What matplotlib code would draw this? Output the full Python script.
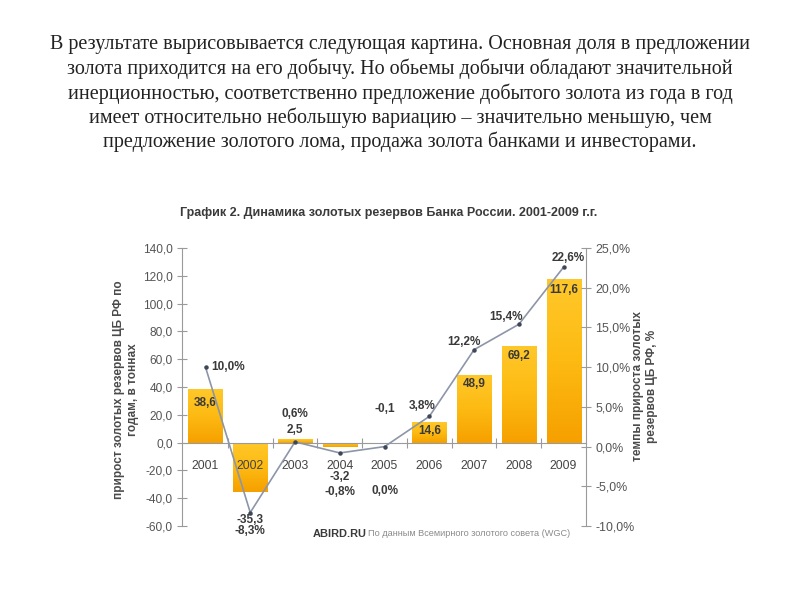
import matplotlib.pyplot as plt
import numpy as np
from matplotlib.colors import LinearSegmentedColormap

# Data
years = ["2001", "2002", "2003", "2004", "2005", "2006", "2007", "2008", "2009"]
tonnes = [38.6, -35.3, 2.5, -3.2, -0.1, 14.6, 48.9, 69.2, 117.6]   # left axis, bars
growth = [10.0, -8.3, 0.6, -0.8, 0.0, 3.8, 12.2, 15.4, 22.6]        # right axis, line
left_ticks = [-60, -40, -20, 0, 20, 40, 60, 80, 100, 120, 140]
right_ticks = [-10, -5, 0, 5, 10, 15, 20, 25]

intro_lines = [
    "В результате вырисовывается следующая картина. Основная доля в предложении",
    "золота приходится на его добычу. Но обьемы добычи обладают значительной",
    "инерционностью, соответственно предложение добытого золота из года в год",
    "имеет относительно небольшую вариацию \u2013 значительно меньшую, чем",
    "предложение золотого лома, продажа золота банками и инвесторами.",
]
title = "График 2. Динамика золотых резервов Банка России. 2001-2009 г.г."
left_label = "прирост золотых резервов ЦБ РФ по\nгодам, в тоннах"
right_label = "темпы прироста золотых\nрезервов ЦБ РФ, %"

# label offsets in pixels (dx, dy) and alignment
val_off = [(0, -14), (0, -28), (0, 9), (0, -30), (0, 34), (0, -9), (0, -9), (0, -10), (0, -11)]
pct_off = [(6, 0), (0, -18), (0, 28), (0, -39), (0, -44), (-7, 10), (-10, 8), (-13, 7), (5, 9)]
pct_ha = ["left"] + ["center"] * 8


def ru(v):
    return f"{v:.1f}".replace(".", ",")


plt.rcParams["font.family"] = ["Liberation Sans", "DejaVu Sans"]
fig = plt.figure(figsize=(8, 6), dpi=100)
fig.patch.set_facecolor("white")

# paragraph on top
for i, line in enumerate(intro_lines):
    fig.text(0.5, 1 - (45 + 24.2 * i) / 600, line, ha="center", va="center",
             fontsize=14.5, family="Liberation Serif", color="#222222")

fig.text(180 / 800, 1 - 213 / 600, title, ha="left", va="center",
         fontsize=9, fontweight="bold", color="#3a3a3a")

ax = fig.add_axes([0.2275, 0.1233, 0.505, 0.4633])
x = np.arange(len(years))
bars = ax.bar(x, tonnes, width=0.76, color="none", edgecolor="none", zorder=2)

cmap = LinearSegmentedColormap.from_list("gold", ["#F6A000", "#FDBA12", "#FFC82A"])
grad = np.linspace(0, 1, 256).reshape(-1, 1)
for b in bars:
    x0, w = b.get_x(), b.get_width()
    if b.get_height() >= 0:
        ext = [x0, x0 + w, 0, max(b.get_height(), 1)]
    else:
        ext = [x0, x0 + w, b.get_height(), 0]
    im = ax.imshow(grad, extent=ext, origin="lower", aspect="auto", cmap=cmap,
                   zorder=2)
    im.set_clip_path(b)

ax.set_xlim(-0.525, 8.5)
ax.set_ylim(-60, 140)
ax.set_yticks(left_ticks)
ax.set_yticklabels([ru(t) for t in left_ticks])
ax.tick_params(axis="y", direction="inout", length=7, color="#9a9a9a",
               labelsize=8.6, labelcolor="#555555", pad=3)

ax.spines["top"].set_visible(False)
ax.spines["right"].set_visible(False)
ax.spines["left"].set_color("#9a9a9a")
ax.spines["bottom"].set_position(("data", 0))
ax.spines["bottom"].set_color("#9a9a9a")
ax.set_xticks(x[:-1] + 0.5)
ax.set_xticklabels([])
ax.tick_params(axis="x", direction="inout", length=7, color="#9a9a9a")

for xi, yr in zip(x, years):
    ax.annotate(yr, (xi, 0), xytext=(0, -23), textcoords="offset pixels",
                ha="center", va="center", fontsize=8.8, color="#444444")

for xi, v, off in zip(x, tonnes, val_off):
    ax.annotate(ru(v), (xi, v), xytext=off, textcoords="offset pixels",
                ha="center", va="center", fontsize=8.5, fontweight="bold",
                color="#3a3a3a", zorder=5)

ax2 = ax.twinx()
ax2.plot(x, growth, color="#8c96a8", lw=1.2, marker="o", ms=2.2,
         mfc="#3e4658", mec="#3e4658", zorder=3)
ax2.set_ylim(-10, 25)
ax2.set_yticks(right_ticks)
ax2.set_yticklabels([ru(t) + "%" for t in right_ticks])
ax2.tick_params(axis="y", direction="inout", length=7, color="#9a9a9a",
                labelsize=8.9, labelcolor="#555555", pad=3)
for s in ["top", "left", "bottom"]:
    ax2.spines[s].set_visible(False)
ax2.spines["right"].set_color("#9a9a9a")

for xi, p, off, ha in zip(x, growth, pct_off, pct_ha):
    ax2.annotate(ru(p) + "%", (xi, p), xytext=off, textcoords="offset pixels",
                 ha=ha, va="center", fontsize=8.5, fontweight="bold",
                 color="#3a3a3a", zorder=5)

fig.text(126 / 800, 1 - 390 / 600, left_label, rotation=90, ha="center",
         va="center", fontsize=8.5, fontweight="bold", color="#4a4a4a",
         multialignment="center")
fig.text(645 / 800, 1 - 386 / 600, right_label, rotation=90, ha="center",
         va="center", fontsize=8.5, fontweight="bold", color="#4a4a4a",
         multialignment="center")

fig.text(313 / 800, 1 - 534 / 600, "ABIRD.RU", ha="left", va="center",
         fontsize=7.9, fontweight="bold", color="#3a3a3a")
fig.text(368 / 800, 1 - 534 / 600, "По данным Всемирного золотого совета (WGC)",
         ha="left", va="center", fontsize=6.6, color="#8a8a8a")

fig.savefig("out.png", dpi=100)
